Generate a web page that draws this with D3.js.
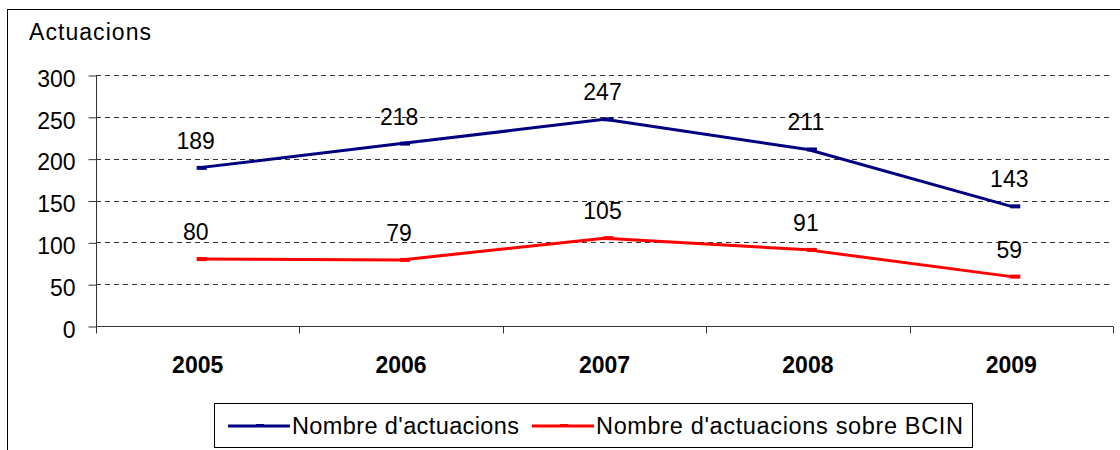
<!DOCTYPE html>
<html>
<head>
<meta charset="utf-8">
<script src="https://cdn.jsdelivr.net/npm/d3@7"></script>
<style>
  body { margin: 0; background: #fff; }
  svg { display: block; font-family: "Liberation Sans", Arial, sans-serif; }
</style>
</head>
<body>
<div id="chart"></div>
<script>
//---------------------------------- Data --------------------
var years = ["2005", "2006", "2007", "2008", "2009"];
var actuacions = [189, 218, 247, 211, 143];
var actuacionsBCIN = [80, 79, 105, 91, 59];
var yTicks = [0, 50, 100, 150, 200, 250, 300];
var seriesNames = ["Nombre d'actuacions", "Nombre d'actuacions sobre BCIN"];
var seriesColors = ["#000080", "#ff0000"];

var width = 1120, height = 450;

var svg = d3.select("#chart").append("svg")
    .attr("width", width)
    .attr("height", height);

// outer frame (right and bottom edges fall outside the picture)
svg.append("rect")
    .attr("x", 7.5).attr("y", 9.5)
    .attr("width", 1130).attr("height", 460)
    .attr("fill", "none")
    .attr("stroke", "#000")
    .attr("stroke-width", 1);

var plot = {left: 96, right: 1113, top: 75, bottom: 326};

var x_scale = d3.scaleBand()
    .domain(years)
    .range([plot.left, plot.right]);

var y_scale = d3.scaleLinear()
    .domain([0, 300])
    .range([plot.bottom, plot.top]);

//---------------------------------- Grid --------------------
svg.append("g").selectAll("line")
    .data(yTicks.filter(function(d){ return d > 0; }))
    .join("line")
    .attr("x1", plot.left).attr("x2", plot.right)
    .attr("y1", function(d){ return Math.round(y_scale(d)) + 0.5; })
    .attr("y2", function(d){ return Math.round(y_scale(d)) + 0.5; })
    .attr("stroke", "#333")
    .attr("stroke-width", 1)
    .attr("stroke-dasharray", "5,4");

//---------------------------------- Axes --------------------
var yAxis = svg.append("g")
    .attr("transform", "translate(" + (plot.left + 0.5) + ",0.5)")
    .call(d3.axisLeft(y_scale).tickValues(yTicks).tickSize(8).tickPadding(13).tickFormat(d3.format("d")));
yAxis.select(".domain").attr("stroke", "#333").attr("d", "M0," + Math.round(plot.top) + "V" + Math.round(plot.bottom));
yAxis.selectAll(".tick line").attr("stroke", "#333");
yAxis.selectAll(".tick text")
    .attr("font-size", 23)
    .attr("font-family", "Liberation Sans, Arial, sans-serif")
    .attr("fill", "#000")
    .attr("dy", "0.47em");

var xAxis = svg.append("g")
    .attr("transform", "translate(0," + (plot.bottom + 0.5) + ")");
xAxis.append("line")
    .attr("x1", plot.left).attr("x2", plot.right)
    .attr("stroke", "#333");
var bounds = years.map(function(d){ return x_scale(d); }).concat([plot.right]);
xAxis.selectAll(".xtick")
    .data(bounds)
    .join("line")
    .attr("class", "xtick")
    .attr("x1", function(d){ return Math.round(d) + 0.5; })
    .attr("x2", function(d){ return Math.round(d) + 0.5; })
    .attr("y1", 0).attr("y2", 7)
    .attr("stroke", "#333");
xAxis.selectAll(".xlabel")
    .data(years)
    .join("text")
    .attr("class", "xlabel")
    .attr("x", function(d){ return x_scale(d) + x_scale.bandwidth() / 2; })
    .attr("y", 46)
    .attr("text-anchor", "middle")
    .attr("font-size", 23)
    .attr("font-weight", "bold")
    .text(function(d){ return d; });

// axis title
svg.append("text")
    .attr("x", 29).attr("y", 40)
    .attr("font-size", 23)
    .attr("textLength", 122)
    .attr("lengthAdjust", "spacing")
    .text("Actuacions");

//---------------------------------- Lines --------------------
var line = d3.line()
    .x(function(d, i){ return x_scale(years[i]) + x_scale.bandwidth() / 2; })
    .y(function(d){ return y_scale(d); });

[actuacions, actuacionsBCIN].forEach(function(series, s){
    var g = svg.append("g");
    g.append("path")
        .datum(series)
        .attr("d", line)
        .attr("fill", "none")
        .attr("stroke", seriesColors[s])
        .attr("stroke-width", 3)
        .attr("stroke-linejoin", "round");
    // dash markers
    g.selectAll("rect")
        .data(series)
        .join("rect")
        .attr("x", function(d, i){ return x_scale(years[i]) + x_scale.bandwidth() / 2 - 1; })
        .attr("y", function(d){ return y_scale(d) - 2; })
        .attr("width", 10).attr("height", 4)
        .attr("fill", seriesColors[s]);
    // value labels
    g.selectAll("text")
        .data(series)
        .join("text")
        .attr("x", function(d, i){ return x_scale(years[i]) + x_scale.bandwidth() / 2 - 2; })
        .attr("y", function(d){ return y_scale(d) - 19; })
        .attr("text-anchor", "middle")
        .attr("font-size", 23)
        .attr("fill", "#000")
        .text(function(d){ return d; });
});

//---------------------------------- Legend --------------------
var legend = svg.append("g");
legend.append("rect")
    .attr("x", 214.5).attr("y", 403.5)
    .attr("width", 758).attr("height", 44)
    .attr("fill", "#fff")
    .attr("stroke", "#000");
var legendX = [228, 532];
var legendW = [227, 367];
seriesNames.forEach(function(name, s){
    legend.append("line")
        .attr("x1", legendX[s]).attr("x2", legendX[s] + 62)
        .attr("y1", 426).attr("y2", 426)
        .attr("stroke", seriesColors[s])
        .attr("stroke-width", 3);
    legend.append("rect")
        .attr("x", legendX[s] + 28).attr("y", 424)
        .attr("width", 8).attr("height", 3)
        .attr("fill", seriesColors[s]);
    legend.append("text")
        .attr("x", legendX[s] + 64).attr("y", 434)
        .attr("font-size", 23.5)
        .attr("textLength", legendW[s])
        .attr("lengthAdjust", "spacing")
        .text(name);
});
</script>
</body>
</html>
